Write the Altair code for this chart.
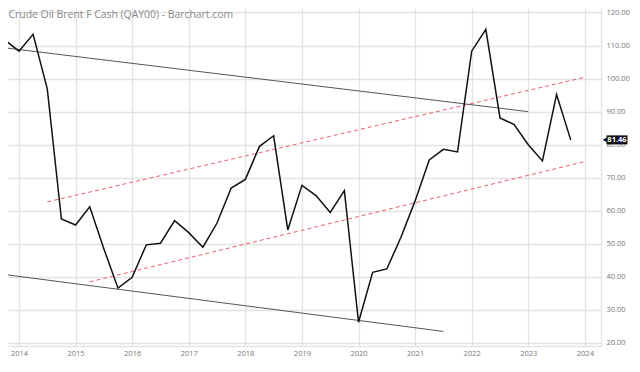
import altair as alt
import pandas as pd

# Quarterly Brent closes (decimal year, USD)
years = [2013.5, 2013.75, 2014.0, 2014.25, 2014.5, 2014.75,
         2015.0, 2015.25, 2015.5, 2015.75, 2016.0, 2016.25, 2016.5, 2016.75,
         2017.0, 2017.25, 2017.5, 2017.75, 2018.0, 2018.25, 2018.5, 2018.75,
         2019.0, 2019.25, 2019.5, 2019.75, 2020.0, 2020.25, 2020.5, 2020.75,
         2021.0, 2021.25, 2021.5, 2021.75, 2022.0, 2022.25, 2022.5, 2022.75,
         2023.0, 2023.25, 2023.5, 2023.75]
prices = [109.6, 111.7, 108.3, 113.4, 96.9, 57.5,
          55.7, 61.2, 48.5, 36.6, 39.9, 49.7, 50.2, 57.0,
          53.4, 49.0, 56.3, 66.9, 69.5, 79.5, 82.7, 54.2,
          67.7, 64.6, 59.5, 66.1, 26.3, 41.4, 42.4, 52.0,
          63.0, 75.4, 78.6, 77.8, 108.3, 114.9, 88.1, 86.1,
          80.0, 75.1, 95.2, 81.46]

# Trend lines: id, start year, start value, end year, end value, kind
trend_ids = ["upper_black", "lower_black", "upper_red", "lower_red"]
trend_x0 = [2013.66, 2013.66, 2014.5, 2015.25]
trend_y0 = [109.5, 40.9, 62.7, 38.5]
trend_x1 = [2023.0, 2021.5, 2024.0, 2024.0]
trend_y1 = [90.0, 23.5, 100.4, 74.9]
trend_kind = ["solid", "solid", "dashed", "dashed"]

year_ticks = list(range(2014, 2025))
price_ticks = list(range(20, 121, 10))
title_text = "Crude Oil Brent F Cash (QAY00) - Barchart.com"
last_price = prices[-1]

price_df = pd.DataFrame({"year": years, "price": prices})
rows = []
for i, tid in enumerate(trend_ids):
    rows.append({"id": tid, "year": trend_x0[i], "price": trend_y0[i], "kind": trend_kind[i]})
    rows.append({"id": tid, "year": trend_x1[i], "price": trend_y1[i], "kind": trend_kind[i]})
trend_df = pd.DataFrame(rows)
last_df = pd.DataFrame({"price": [last_price], "label": [f"{last_price:.2f}"]})

W, H = 593, 338
xs = alt.Scale(domain=[2013.806, 2024.285], nice=False, zero=False)
ys = alt.Scale(domain=[19.09, 121.36], nice=False, zero=False)

x_axis = alt.Axis(values=year_ticks, format="d", title=None, labelFontSize=7.5,
                  labelColor="#777777", labelFont="Open Sans", tickSize=0,
                  labelPadding=3, gridColor="#e3e3e3", gridWidth=1.3,
                  domainColor="#e3e3e3", domainWidth=1.3, zindex=0)
y_axis = alt.Axis(values=price_ticks, format=".2f", title=None, orient="right",
                  labelFontSize=7.5, labelColor="#777777", labelFont="Open Sans",
                  tickSize=0, labelPadding=5, gridColor="#e3e3e3", gridWidth=1.3,
                  domainColor="#e3e3e3", domainWidth=1.3, zindex=0)

X = alt.X("year:Q", scale=xs, axis=x_axis)
Y = alt.Y("price:Q", scale=ys, axis=y_axis)

black_trend = alt.Chart(trend_df).transform_filter(alt.datum.kind == "solid").mark_line(
    color="#555555", strokeWidth=1, clip=True
).encode(x=X, y=Y, detail="id:N")

red_trend = alt.Chart(trend_df).transform_filter(alt.datum.kind == "dashed").mark_line(
    color="#e8606a", strokeWidth=1, strokeDash=[4, 3], clip=True
).encode(x=X, y=Y, detail="id:N")

price_line = alt.Chart(price_df).mark_line(color="#111111", strokeWidth=1.5, clip=True).encode(
    x=X, y=Y
)

title_mark = alt.Chart(pd.DataFrame({"t": [title_text]})).mark_text(
    align="left", baseline="alphabetic", font="Open Sans", fontSize=10.4, color="#888888"
).encode(x=alt.value(0.5), y=alt.value(9.5), text="t:N")

tag_box = alt.Chart(last_df).mark_tick(
    thickness=9, size=21, color="#111111", opacity=1, orient="horizontal"
).encode(x=alt.value(609), y=Y)

tag_arrow = alt.Chart(last_df).mark_point(
    shape="triangle-left", size=30, filled=True, color="#111111", opacity=1
).encode(x=alt.value(597), y=Y)

tag_text = alt.Chart(last_df).mark_text(
    font="Open Sans", fontSize=7.5, fontWeight="bold", color="white",
    align="center", baseline="middle"
).encode(x=alt.value(609), y=Y, text="label:N")

chart = alt.layer(
    black_trend, red_trend, price_line, title_mark, tag_box, tag_arrow, tag_text
).properties(
    width=W, height=H,
    autosize=alt.AutoSizeParams(type="none"),
    padding={"left": 0, "top": 0, "right": 31, "bottom": 14},
).configure_view(stroke=None)

chart.save("out.html", embed_options={"renderer": "svg", "actions": False})
